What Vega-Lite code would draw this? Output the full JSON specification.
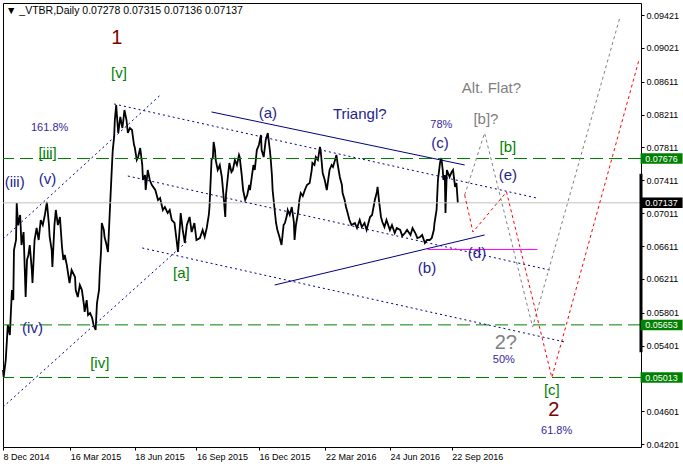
{
"$schema":"https://vega.github.io/schema/vega-lite/v6.json",
"width":638,"height":444,
"autosize":"none",
"padding":{"left":3,"top":3,"right":42,"bottom":21},
"background":"#ffffff",
"title":{"text":"▼ _VTBR,Daily  0.07278 0.07315 0.07136 0.07137","anchor":"start","frame":"group","offset":-13,"fontSize":10.5,"font":"Liberation Sans","fontWeight":"normal","color":"#000000","dx":3},
"config":{"view":{"stroke":"#000000","strokeWidth":1},"font":"Liberation Sans","axis":{"title":null,"grid":false,"domain":false,"labelOverlap":false,"labelFlush":false,"labelBound":false}},
"datasets":{
"price":[
{"d":"2014-12-08","v":0.05104},{"d":"2014-12-09","v":0.05019},{"d":"2014-12-12","v":0.05226},{"d":"2014-12-15","v":0.05651},{"d":"2014-12-18","v":0.0553},{"d":"2014-12-21","v":0.06077},{"d":"2014-12-23","v":0.05955},{"d":"2014-12-24","v":0.06563},{"d":"2014-12-27","v":0.06685},{"d":"2014-12-28","v":0.07135},{"d":"2014-12-30","v":0.06867},
{"d":"2015-01-02","v":0.06989},{"d":"2015-01-04","v":0.06624},{"d":"2015-01-07","v":0.06782},{"d":"2015-01-10","v":0.05992},{"d":"2015-01-12","v":0.06442},{"d":"2015-01-14","v":0.06503},{"d":"2015-01-16","v":0.06624},{"d":"2015-01-19","v":0.0632},{"d":"2015-01-20","v":0.06162},{"d":"2015-01-23","v":0.06685},{"d":"2015-01-26","v":0.06831},{"d":"2015-01-29","v":0.06685},
{"d":"2015-02-01","v":0.06928},{"d":"2015-02-04","v":0.06867},{"d":"2015-02-07","v":0.06989},{"d":"2015-02-10","v":0.07147},{"d":"2015-02-13","v":0.06867},{"d":"2015-02-14","v":0.06722},{"d":"2015-02-17","v":0.06563},{"d":"2015-02-18","v":0.06357},{"d":"2015-02-21","v":0.06867},{"d":"2015-02-23","v":0.0705},{"d":"2015-02-26","v":0.06867},
{"d":"2015-03-01","v":0.06965},{"d":"2015-03-04","v":0.066},{"d":"2015-03-06","v":0.06442},{"d":"2015-03-08","v":0.06503},{"d":"2015-03-11","v":0.06381},{"d":"2015-03-15","v":0.06162},{"d":"2015-03-18","v":0.0632},{"d":"2015-03-23","v":0.06235},{"d":"2015-03-24","v":0.06077},{"d":"2015-03-27","v":0.05992},{"d":"2015-03-30","v":0.06138},
{"d":"2015-04-02","v":0.06077},{"d":"2015-04-05","v":0.05895},{"d":"2015-04-06","v":0.0581},{"d":"2015-04-09","v":0.05955},{"d":"2015-04-11","v":0.05773},{"d":"2015-04-14","v":0.05797},{"d":"2015-04-17","v":0.05737},{"d":"2015-04-19","v":0.05651},{"d":"2015-04-22","v":0.05591},{"d":"2015-04-24","v":0.05919},{"d":"2015-04-27","v":0.06077},{"d":"2015-04-28","v":0.06284},{"d":"2015-04-30","v":0.06563},
{"d":"2015-05-01","v":0.06892},{"d":"2015-05-04","v":0.06807},{"d":"2015-05-05","v":0.06722},{"d":"2015-05-08","v":0.06624},{"d":"2015-05-10","v":0.06539},{"d":"2015-05-13","v":0.07086},{"d":"2015-05-16","v":0.07621},{"d":"2015-05-17","v":0.07779},{"d":"2015-05-19","v":0.07938},{"d":"2015-05-20","v":0.08144},{"d":"2015-05-22","v":0.08327},{"d":"2015-05-23","v":0.08205},{"d":"2015-05-25","v":0.07986},{"d":"2015-05-28","v":0.08181},{"d":"2015-05-31","v":0.08047},
{"d":"2015-06-01","v":0.08108},{"d":"2015-06-03","v":0.08266},{"d":"2015-06-06","v":0.08144},{"d":"2015-06-08","v":0.07986},{"d":"2015-06-11","v":0.08047},{"d":"2015-06-14","v":0.08023},{"d":"2015-06-17","v":0.0784},{"d":"2015-06-18","v":0.07816},{"d":"2015-06-21","v":0.07658},{"d":"2015-06-23","v":0.07694},{"d":"2015-06-26","v":0.07804},{"d":"2015-06-29","v":0.07597},{"d":"2015-06-30","v":0.07415},
{"d":"2015-07-03","v":0.07475},{"d":"2015-07-04","v":0.07293},{"d":"2015-07-07","v":0.07536},{"d":"2015-07-10","v":0.07415},{"d":"2015-07-13","v":0.07354},{"d":"2015-07-18","v":0.07293},{"d":"2015-07-22","v":0.07171},{"d":"2015-07-25","v":0.07196},{"d":"2015-07-29","v":0.0705},
{"d":"2015-08-01","v":0.07086},{"d":"2015-08-05","v":0.07013},{"d":"2015-08-08","v":0.0705},{"d":"2015-08-11","v":0.06928},{"d":"2015-08-15","v":0.06892},{"d":"2015-08-18","v":0.06685},{"d":"2015-08-20","v":0.06539},{"d":"2015-08-23","v":0.06867},{"d":"2015-08-24","v":0.07013},{"d":"2015-08-27","v":0.06807},{"d":"2015-08-30","v":0.06649},
{"d":"2015-09-02","v":0.06867},{"d":"2015-09-06","v":0.06965},{"d":"2015-09-09","v":0.06782},{"d":"2015-09-13","v":0.06892},{"d":"2015-09-16","v":0.06685},{"d":"2015-09-21","v":0.06709},{"d":"2015-09-25","v":0.06807},{"d":"2015-09-28","v":0.06722},
{"d":"2015-10-01","v":0.06831},{"d":"2015-10-04","v":0.06989},{"d":"2015-10-05","v":0.07086},{"d":"2015-10-08","v":0.07658},{"d":"2015-10-10","v":0.07694},{"d":"2015-10-11","v":0.07877},{"d":"2015-10-13","v":0.07779},{"d":"2015-10-14","v":0.07658},{"d":"2015-10-17","v":0.07536},{"d":"2015-10-20","v":0.07597},{"d":"2015-10-23","v":0.07451},{"d":"2015-10-26","v":0.07171},{"d":"2015-10-28","v":0.06965},{"d":"2015-10-29","v":0.07232},
{"d":"2015-11-01","v":0.07475},{"d":"2015-11-03","v":0.07621},{"d":"2015-11-06","v":0.07512},{"d":"2015-11-08","v":0.07536},{"d":"2015-11-11","v":0.07658},{"d":"2015-11-14","v":0.07597},{"d":"2015-11-17","v":0.07719},{"d":"2015-11-18","v":0.07694},{"d":"2015-11-21","v":0.07475},{"d":"2015-11-23","v":0.07293},{"d":"2015-11-26","v":0.07171},{"d":"2015-11-29","v":0.07232},
{"d":"2015-12-02","v":0.07354},{"d":"2015-12-03","v":0.07293},{"d":"2015-12-06","v":0.07475},{"d":"2015-12-08","v":0.07597},{"d":"2015-12-10","v":0.07536},{"d":"2015-12-13","v":0.07779},{"d":"2015-12-16","v":0.0784},{"d":"2015-12-19","v":0.07962},{"d":"2015-12-20","v":0.07779},{"d":"2015-12-23","v":0.07694},{"d":"2015-12-26","v":0.07901},{"d":"2015-12-29","v":0.07986},
{"d":"2016-01-01","v":0.07779},{"d":"2016-01-02","v":0.07694},{"d":"2016-01-04","v":0.07475},{"d":"2016-01-05","v":0.07293},{"d":"2016-01-08","v":0.0705},{"d":"2016-01-10","v":0.06892},{"d":"2016-01-12","v":0.06807},{"d":"2016-01-15","v":0.06722},{"d":"2016-01-18","v":0.06624},{"d":"2016-01-21","v":0.06867},{"d":"2016-01-23","v":0.06892},{"d":"2016-01-26","v":0.06989},{"d":"2016-01-27","v":0.0705},{"d":"2016-01-30","v":0.06989},
{"d":"2016-02-02","v":0.07086},{"d":"2016-02-05","v":0.06904},{"d":"2016-02-06","v":0.06685},{"d":"2016-02-08","v":0.06867},{"d":"2016-02-11","v":0.07013},{"d":"2016-02-13","v":0.07171},{"d":"2016-02-15","v":0.07257},{"d":"2016-02-18","v":0.0722},{"d":"2016-02-21","v":0.07293},{"d":"2016-02-24","v":0.07354},{"d":"2016-02-28","v":0.07378},
{"d":"2016-03-02","v":0.07536},{"d":"2016-03-03","v":0.07621},{"d":"2016-03-06","v":0.07597},{"d":"2016-03-08","v":0.07694},{"d":"2016-03-11","v":0.07658},{"d":"2016-03-14","v":0.07816},{"d":"2016-03-15","v":0.07779},{"d":"2016-03-18","v":0.075},{"d":"2016-03-21","v":0.07415},{"d":"2016-03-24","v":0.07293},{"d":"2016-03-27","v":0.07475},{"d":"2016-03-28","v":0.07536},{"d":"2016-03-31","v":0.07597},
{"d":"2016-04-02","v":0.07573},{"d":"2016-04-05","v":0.07658},{"d":"2016-04-07","v":0.07719},{"d":"2016-04-09","v":0.07597},{"d":"2016-04-12","v":0.07451},{"d":"2016-04-15","v":0.07354},{"d":"2016-04-16","v":0.07257},{"d":"2016-04-19","v":0.07171},{"d":"2016-04-21","v":0.07086},{"d":"2016-04-23","v":0.07025},{"d":"2016-04-26","v":0.06928},{"d":"2016-04-29","v":0.06867},
{"d":"2016-05-04","v":0.06892},{"d":"2016-05-07","v":0.06831},{"d":"2016-05-11","v":0.06928},{"d":"2016-05-14","v":0.06843},{"d":"2016-05-18","v":0.06892},{"d":"2016-05-21","v":0.06807},{"d":"2016-05-26","v":0.06965},{"d":"2016-05-29","v":0.06989},
{"d":"2016-06-02","v":0.07171},{"d":"2016-06-05","v":0.07269},{"d":"2016-06-06","v":0.0733},{"d":"2016-06-08","v":0.07171},{"d":"2016-06-11","v":0.06965},{"d":"2016-06-13","v":0.06904},{"d":"2016-06-16","v":0.06843},{"d":"2016-06-19","v":0.06928},{"d":"2016-06-24","v":0.06807},{"d":"2016-06-27","v":0.06867},
{"d":"2016-07-01","v":0.0677},{"d":"2016-07-04","v":0.06831},{"d":"2016-07-09","v":0.06807},{"d":"2016-07-12","v":0.06734},{"d":"2016-07-16","v":0.0677},{"d":"2016-07-19","v":0.06807},{"d":"2016-07-24","v":0.06746},{"d":"2016-07-27","v":0.06831},{"d":"2016-07-31","v":0.0677},
{"d":"2016-08-03","v":0.06709},{"d":"2016-08-07","v":0.06722},{"d":"2016-08-10","v":0.06746},{"d":"2016-08-14","v":0.06649},{"d":"2016-08-17","v":0.06685},{"d":"2016-08-21","v":0.06685},{"d":"2016-08-24","v":0.06709},{"d":"2016-08-27","v":0.06807},{"d":"2016-08-28","v":0.06892},{"d":"2016-08-31","v":0.0705},
{"d":"2016-09-02","v":0.07415},{"d":"2016-09-05","v":0.07621},{"d":"2016-09-06","v":0.07658},{"d":"2016-09-07","v":0.07682},{"d":"2016-09-09","v":0.07536},{"d":"2016-09-10","v":0.07415},{"d":"2016-09-12","v":0.07475},{"d":"2016-09-13","v":0.07013},{"d":"2016-09-15","v":0.07536},{"d":"2016-09-18","v":0.07475},{"d":"2016-09-19","v":0.07451},{"d":"2016-09-22","v":0.07512},{"d":"2016-09-24","v":0.07536},{"d":"2016-09-27","v":0.0733},{"d":"2016-09-29","v":0.07378},{"d":"2016-10-01","v":0.07137}
],
"hlines":[{"v":0.07676,"k":"level"},{"v":0.05653,"k":"level"},{"v":0.05013,"k":"level"},{"v":0.07137,"k":"bid"}],
"chan":[
{"id":"c1","d":"2015-05-19","v":0.08339},{"id":"c1","d":"2017-01-24","v":0.07196},
{"id":"c2","d":"2015-06-08","v":0.07463},{"id":"c2","d":"2017-02-12","v":0.0632},
{"id":"c3","d":"2015-06-29","v":0.06588},{"id":"c3","d":"2017-03-06","v":0.05445},
{"id":"c4","d":"2014-12-08","v":0.04654},{"id":"c4","d":"2015-09-03","v":0.06673},
{"id":"c5","d":"2014-12-08","v":0.06697},{"id":"c5","d":"2015-07-27","v":0.0846}
],
"tri":[
{"id":"t1","d":"2015-10-08","v":0.08242},{"id":"t1","d":"2016-10-11","v":0.07597},
{"id":"t2","d":"2016-01-08","v":0.06138},{"id":"t2","d":"2016-11-09","v":0.06746}
],
"mag":[{"d":"2016-08-18","v":0.0657},{"d":"2017-01-25","v":0.0657}],
"altpath":[{"d":"2016-10-11","v":0.07232},{"d":"2016-11-09","v":0.07986},{"d":"2017-01-18","v":0.05627},{"d":"2017-05-25","v":0.09385}],
"mainpath":[{"d":"2016-10-11","v":0.07232},{"d":"2016-10-23","v":0.06782},{"d":"2016-12-11","v":0.07269},{"d":"2017-02-15","v":0.05013},{"d":"2017-06-22","v":0.08874}],
"labels":[
{"t":"1","d":"2015-05-23","v":0.09141,"k":"deg"},
{"t":"2","d":"2017-02-18","v":0.04618,"k":"deg"},
{"t":"2?","d":"2016-12-10","v":0.05433,"k":"altdeg"},
{"t":"Alt. Flat?","d":"2016-11-19","v":0.08533,"k":"alt"},
{"t":"[b]?","d":"2016-11-11","v":0.08156,"k":"alt"},
{"t":"[v]","d":"2015-05-26","v":0.08716,"k":"minor"},
{"t":"[iii]","d":"2015-02-11","v":0.07743,"k":"minor"},
{"t":"[iv]","d":"2015-04-28","v":0.05189,"k":"minor"},
{"t":"[a]","d":"2015-08-25","v":0.06284,"k":"minor"},
{"t":"[b]","d":"2016-12-13","v":0.07816,"k":"minor"},
{"t":"[c]","d":"2017-02-15","v":0.04861,"k":"minor"},
{"t":"(iii)","d":"2014-12-25","v":0.0739,"k":"minute"},
{"t":"(v)","d":"2015-02-11","v":0.07427,"k":"minute"},
{"t":"(iv)","d":"2015-01-20","v":0.05615,"k":"minute"},
{"t":"(a)","d":"2015-12-29","v":0.08229,"k":"minute"},
{"t":"Triangl?","d":"2016-05-11","v":0.08217,"k":"minute"},
{"t":"(c)","d":"2016-09-05","v":0.07865,"k":"minute"},
{"t":"(e)","d":"2016-12-13","v":0.07475,"k":"minute"},
{"t":"(d)","d":"2016-10-29","v":0.06527,"k":"minute"},
{"t":"(b)","d":"2016-08-17","v":0.06345,"k":"minute"},
{"t":"161.8%","d":"2015-02-14","v":0.08047,"k":"pct"},
{"t":"78%","d":"2016-09-07","v":0.08083,"k":"pct"},
{"t":"50%","d":"2016-12-07","v":0.05226,"k":"pct"},
{"t":"61.8%","d":"2017-02-22","v":0.04362,"k":"pct"}
],
"tags":[{"v":0.07676,"t":"0.07676","k":"level"},{"v":0.05653,"t":"0.05653","k":"level"},{"v":0.05013,"t":"0.05013","k":"level"},{"v":0.07137,"t":"0.07137","k":"bid"}]
},
"layer":[
{"data":{"name":"price"},"mark":{"type":"line","color":"#000000","strokeWidth":1.8},
 "encoding":{"x":{"field":"d","type":"temporal","scale":{"type":"time","domain":[{"year":2014,"month":12,"date":8},{"year":2017,"month":6,"date":25}]},
   "axis":{"values":[{"year":2014,"month":12,"date":8},{"year":2015,"month":3,"date":16},{"year":2015,"month":6,"date":18},{"year":2015,"month":9,"date":16},{"year":2015,"month":12,"date":16},{"year":2016,"month":3,"date":22},{"year":2016,"month":6,"date":24},{"year":2016,"month":9,"date":22}],
   "tickCount":30,"format":"%-d %b %Y","labelAlign":"left","labelFont":"Liberation Sans","labelFontSize":9,"labelColor":"#000000","tickColor":"#000000","tickSize":3,"labelPadding":2,"domain":false,"grid":false,"title":null,"labelOverlap":false,"labelFlush":false}},
  "y":{"field":"v","type":"quantitative","scale":{"domain":[0.04168,0.09567],"nice":false,"zero":false},
   "axis":{"orient":"right","values":[0.09421,0.09021,0.08611,0.08211,0.07811,0.07411,0.07011,0.06611,0.06211,0.05801,0.05401,0.04601,0.04201],"tickCount":30,"format":".5f","labelFont":"Liberation Sans","labelFontSize":9,"labelColor":"#000000","tickColor":"#000000","tickSize":3,"labelPadding":2,"domain":false,"grid":false,"title":null,"labelOverlap":false,"labelFlush":false}}}},
{"data":{"name":"hlines"},"transform":[{"filter":"datum.k==='bid'"}],"mark":{"type":"rule","color":"#C0C0C0","strokeWidth":1},
 "encoding":{"y":{"field":"v","type":"quantitative","scale":{"domain":[0.04168,0.09567],"nice":false,"zero":false}}}},
{"data":{"name":"hlines"},"transform":[{"filter":"datum.k==='level'"}],"mark":{"type":"rule","color":"#008000","strokeWidth":1,"strokeDash":[13,6]},
 "encoding":{"y":{"field":"v","type":"quantitative","scale":{"domain":[0.04168,0.09567],"nice":false,"zero":false}}}},
{"data":{"name":"chan"},"mark":{"type":"line","color":"#000080","strokeWidth":1,"strokeDash":[2,3]},
 "encoding":{"x":{"field":"d","type":"temporal","scale":{"type":"time","domain":[{"year":2014,"month":12,"date":8},{"year":2017,"month":6,"date":25}]}},
  "y":{"field":"v","type":"quantitative","scale":{"domain":[0.04168,0.09567],"nice":false,"zero":false}},"detail":{"field":"id"}}},
{"data":{"name":"tri"},"mark":{"type":"line","color":"#000080","strokeWidth":1},
 "encoding":{"x":{"field":"d","type":"temporal","scale":{"type":"time","domain":[{"year":2014,"month":12,"date":8},{"year":2017,"month":6,"date":25}]}},
  "y":{"field":"v","type":"quantitative","scale":{"domain":[0.04168,0.09567],"nice":false,"zero":false}},"detail":{"field":"id"}}},
{"data":{"name":"mag"},"mark":{"type":"line","color":"#FF00FF","strokeWidth":1},
 "encoding":{"x":{"field":"d","type":"temporal","scale":{"type":"time","domain":[{"year":2014,"month":12,"date":8},{"year":2017,"month":6,"date":25}]}},
  "y":{"field":"v","type":"quantitative","scale":{"domain":[0.04168,0.09567],"nice":false,"zero":false}}}},
{"data":{"name":"altpath"},"mark":{"type":"line","color":"#808080","strokeWidth":1,"strokeDash":[3,3]},
 "encoding":{"x":{"field":"d","type":"temporal","scale":{"type":"time","domain":[{"year":2014,"month":12,"date":8},{"year":2017,"month":6,"date":25}]}},
  "y":{"field":"v","type":"quantitative","scale":{"domain":[0.04168,0.09567],"nice":false,"zero":false}}}},
{"data":{"name":"mainpath"},"mark":{"type":"line","color":"#FF0000","strokeWidth":1,"strokeDash":[3,3]},
 "encoding":{"x":{"field":"d","type":"temporal","scale":{"type":"time","domain":[{"year":2014,"month":12,"date":8},{"year":2017,"month":6,"date":25}]}},
  "y":{"field":"v","type":"quantitative","scale":{"domain":[0.04168,0.09567],"nice":false,"zero":false}}}},
{"data":{"name":"labels"},"transform":[{"filter":"datum.k==='deg'"}],"mark":{"type":"text","fontSize":20,"font":"Liberation Sans","color":"#800000","baseline":"middle","align":"center"},
 "encoding":{"x":{"field":"d","type":"temporal","scale":{"type":"time","domain":[{"year":2014,"month":12,"date":8},{"year":2017,"month":6,"date":25}]}},
  "y":{"field":"v","type":"quantitative","scale":{"domain":[0.04168,0.09567],"nice":false,"zero":false}},"text":{"field":"t"}}},
{"data":{"name":"labels"},"transform":[{"filter":"datum.k==='altdeg'"}],"mark":{"type":"text","fontSize":20,"font":"Liberation Sans","color":"#808080","baseline":"middle","align":"center"},
 "encoding":{"x":{"field":"d","type":"temporal","scale":{"type":"time","domain":[{"year":2014,"month":12,"date":8},{"year":2017,"month":6,"date":25}]}},
  "y":{"field":"v","type":"quantitative","scale":{"domain":[0.04168,0.09567],"nice":false,"zero":false}},"text":{"field":"t"}}},
{"data":{"name":"labels"},"transform":[{"filter":"datum.k==='alt'"}],"mark":{"type":"text","fontSize":15,"font":"Liberation Sans","color":"#808080","baseline":"middle","align":"center"},
 "encoding":{"x":{"field":"d","type":"temporal","scale":{"type":"time","domain":[{"year":2014,"month":12,"date":8},{"year":2017,"month":6,"date":25}]}},
  "y":{"field":"v","type":"quantitative","scale":{"domain":[0.04168,0.09567],"nice":false,"zero":false}},"text":{"field":"t"}}},
{"data":{"name":"labels"},"transform":[{"filter":"datum.k==='minor'"}],"mark":{"type":"text","fontSize":15,"font":"Liberation Sans","color":"#008000","baseline":"middle","align":"center"},
 "encoding":{"x":{"field":"d","type":"temporal","scale":{"type":"time","domain":[{"year":2014,"month":12,"date":8},{"year":2017,"month":6,"date":25}]}},
  "y":{"field":"v","type":"quantitative","scale":{"domain":[0.04168,0.09567],"nice":false,"zero":false}},"text":{"field":"t"}}},
{"data":{"name":"labels"},"transform":[{"filter":"datum.k==='minute'"}],"mark":{"type":"text","fontSize":15,"font":"Liberation Sans","color":"#23238F","baseline":"middle","align":"center"},
 "encoding":{"x":{"field":"d","type":"temporal","scale":{"type":"time","domain":[{"year":2014,"month":12,"date":8},{"year":2017,"month":6,"date":25}]}},
  "y":{"field":"v","type":"quantitative","scale":{"domain":[0.04168,0.09567],"nice":false,"zero":false}},"text":{"field":"t"}}},
{"data":{"name":"labels"},"transform":[{"filter":"datum.k==='pct'"}],"mark":{"type":"text","fontSize":11,"font":"Liberation Sans","color":"#35289A","baseline":"middle","align":"center"},
 "encoding":{"x":{"field":"d","type":"temporal","scale":{"type":"time","domain":[{"year":2014,"month":12,"date":8},{"year":2017,"month":6,"date":25}]}},
  "y":{"field":"v","type":"quantitative","scale":{"domain":[0.04168,0.09567],"nice":false,"zero":false}},"text":{"field":"t"}}},
{"data":{"values":[{}]},"mark":{"type":"rule","color":"#000000","strokeWidth":3},
 "encoding":{"x":{"datum":{"year":2017,"month":6,"date":25},"type":"temporal","scale":{"type":"time","domain":[{"year":2014,"month":12,"date":8},{"year":2017,"month":6,"date":25}]}},
  "y":{"datum":0.0749,"type":"quantitative","scale":{"domain":[0.04168,0.09567],"nice":false,"zero":false}},"y2":{"datum":0.0532}}},
{"data":{"name":"tags"},"mark":{"type":"point","shape":"M-1,-0.25L1,-0.25L1,0.25L-1,0.25Z","size":1764,"filled":true,"opacity":1,"strokeWidth":0},
 "encoding":{"x":{"datum":{"year":2017,"month":7,"date":25},"type":"temporal","scale":{"type":"time","domain":[{"year":2014,"month":12,"date":8},{"year":2017,"month":6,"date":25}]}},
  "y":{"field":"v","type":"quantitative","scale":{"domain":[0.04168,0.09567],"nice":false,"zero":false}},
  "color":{"field":"k","type":"nominal","scale":{"domain":["level","bid"],"range":["#008000","#000000"]},"legend":null}}},
{"data":{"name":"tags"},"mark":{"type":"text","fontSize":9,"font":"Liberation Sans","color":"#FFFFFF","baseline":"middle","align":"center"},
 "encoding":{"x":{"datum":{"year":2017,"month":7,"date":25},"type":"temporal","scale":{"type":"time","domain":[{"year":2014,"month":12,"date":8},{"year":2017,"month":6,"date":25}]}},
  "y":{"field":"v","type":"quantitative","scale":{"domain":[0.04168,0.09567],"nice":false,"zero":false}},"text":{"field":"t"}}}
]
}
